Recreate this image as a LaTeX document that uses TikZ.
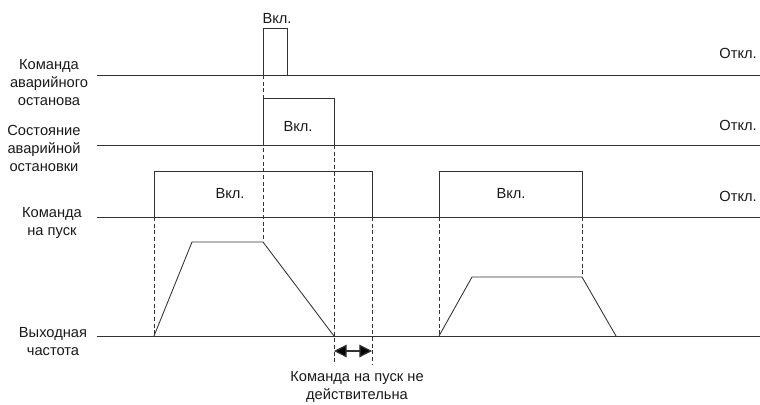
\documentclass[tikz,border=0pt]{standalone}
\usepackage{fontspec}
\setmainfont{Liberation Sans}
\usetikzlibrary{arrows.meta}
\begin{document}
\begin{tikzpicture}[x=0.75pt,y=-0.75pt,
  sig/.style={line width=0.65pt, draw=black!80},
  guide/.style={line width=0.55pt, draw=black!80, dash pattern=on 3pt off 2pt},
  lbl/.style={font=\fontsize{11}{13.5}\selectfont, align=center, inner sep=0pt, text=black!90},
  dimarrow/.style={line width=0.9pt, draw=black!80, {Triangle[length=9.5pt,width=9.5pt,fill=black]}-{Triangle[length=9.5pt,width=9.5pt,fill=black]}}
]
\useasboundingbox (0,0) rectangle (760,404);
% coordinates
\coordinate (l1s) at (97,75);   \coordinate (l1e) at (760,75);
\coordinate (l2s) at (97,145);  \coordinate (l2e) at (760,145);
\coordinate (l3s) at (97,217);  \coordinate (l3e) at (760,217);
\coordinate (l4s) at (97,336);  \coordinate (l4e) at (760,336);
% guides (dashed)
\draw[guide] (263,75) -- (263,242);
\draw[guide] (334,145) -- (334,365);
\draw[guide] (372,217) -- (372,365);
\draw[guide] (154,217) -- (154,336);
\draw[guide] (439,217) -- (439,336);
\draw[guide] (582,217) -- (582,277);
% signal lines
\draw[sig] (l1s) -- (l1e);
\draw[sig] (263,75) -- (263,28) -- (287,28) -- (287,75);
\draw[sig] (l2s) -- (l2e);
\draw[sig] (263,145) -- (263,98) -- (334,98) -- (334,145);
\draw[sig] (l3s) -- (l3e);
\draw[sig] (154,217) -- (154,171) -- (372,171) -- (372,217);
\draw[sig] (439,217) -- (439,171) -- (582,171) -- (582,217);
\draw[sig] (l4s) -- (l4e);
\draw[sig] (154,336) -- (192,242) -- (263,242) -- (334,336);
\draw[sig] (439,336) -- (472,277) -- (582,277) -- (616,336);
% double arrow
\coordinate (a1) at (334,351);
\coordinate (a2) at (372,351);
\draw[dimarrow] (a1) -- (a2);
% labels
\node[lbl] (lab1) at (49,83) {Команда\\аварийного\\останова};
\node[lbl] (lab2) at (44,148) {Состояние\\аварийной\\остановки};
\node[lbl] (lab3) at (52,223) {Команда\\на пуск};
\node[lbl] (lab4) at (53,342) {Выходная\\частота};
\node[lbl] (lab5) at (357,387) {Команда на пуск не\\действительна};
\node[lbl] (on1) at (277,19) {Вкл.};
\node[lbl] (on2) at (298,127) {Вкл.};
\node[lbl] (on3) at (230,194) {Вкл.};
\node[lbl] (on4) at (511,194) {Вкл.};
\node[lbl, anchor=east] (off1) at (757,53) {Откл.};
\node[lbl, anchor=east] (off2) at (757,125) {Откл.};
\node[lbl, anchor=east] (off3) at (757,196) {Откл.};
\end{tikzpicture}
\end{document}
